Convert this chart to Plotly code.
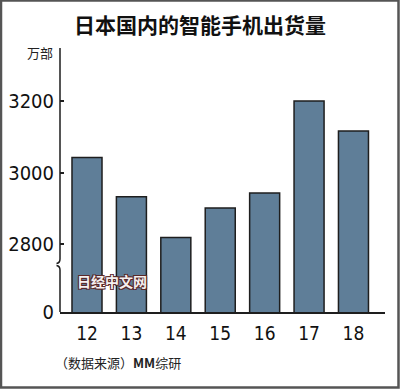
import plotly.graph_objects as go

years = ["12", "13", "14", "15", "16", "17", "18"]
shipments = [3042, 2932, 2818, 2901, 2943, 3200, 3116]
tick_vals = [2610, 2800, 3000, 3200]
tick_text = ["0", "2800", "3000", "3200"]

W, H = 400, 389
L, R, T, B = 60, 15, 48, 77
pw, ph = W - L - R, H - T - B

def px(x):
    return (x - L) / pw

def py(y):
    return (H - B - y) / ph

NUM = "Liberation Sans Narrow, DejaVu Sans Condensed, sans-serif"
CJK = "Noto Sans CJK SC, sans-serif"

fig = go.Figure(go.Bar(
    x=years, y=shipments,
    marker=dict(color="#5f7e98", line=dict(color="#1e1e1e", width=1.5)),
    width=0.676,
    hoverinfo="skip",
))

ax = px(60)
path_upper = f"M {ax},{py(48)} L {ax},{py(259)} Q {ax},{py(263)} {px(56.5)},{py(263.5)}"
path_lower = f"M {px(56.5)},{py(265.5)} Q {ax},{py(266)} {ax},{py(270)} L {ax},{py(312)}"
shapes = [
    dict(type="path", path=path_upper, xref="paper", yref="paper",
         line=dict(color="#1e1e1e", width=1.5)),
    dict(type="path", path=path_lower, xref="paper", yref="paper",
         line=dict(color="#1e1e1e", width=1.5)),
    dict(type="rect", xref="paper", yref="paper",
         x0=px(1), x1=px(W - 1.5), y0=py(H - 1.5), y1=py(0.5),
         line=dict(color="#555555", width=2.5), layer="above"),
]

annotations = [
    dict(text="<b>日本国内的智能手机出货量</b>", x=px(200), y=py(24), xref="paper", yref="paper",
         showarrow=False, font=dict(family=CJK, size=21, color="#111111"),
         xanchor="center", yanchor="middle"),
    dict(text="万部", x=px(25), y=py(52.5), xref="paper", yref="paper",
         showarrow=False, font=dict(family=CJK, size=13, color="#222222"),
         xanchor="left", yanchor="middle"),
    dict(text="（数据来源）<b>MM</b>综研", x=px(53), y=py(362), xref="paper", yref="paper",
         showarrow=False, font=dict(family=CJK, size=13, color="#222222"),
         xanchor="left", yanchor="middle"),
    dict(text="<b>日经中文网</b>", x=px(111.5), y=py(281), xref="paper", yref="paper",
         showarrow=False,
         font=dict(family=CJK, size=14, color="#f4f0f0",
                   shadow="-1px -1px 0 #5a2828, 1px -1px 0 #5a2828, -1px 1px 0 #5a2828, 1px 1px 0 #5a2828"),
         xanchor="center", yanchor="middle"),
]

fig.update_layout(
    width=W, height=H,
    margin=dict(l=L, r=R, t=T, b=B, pad=0),
    paper_bgcolor="white", plot_bgcolor="white",
    showlegend=False,
    shapes=shapes,
    annotations=annotations,
    xaxis=dict(
        type="category", automargin=False,
        range=[-0.608, 6.71],
        showline=True, linecolor="#1e1e1e", linewidth=1.5,
        showgrid=False, zeroline=False, ticks="",
        tickfont=dict(family=NUM, size=19, color="#111111"),
        ticklabelstandoff=3,
        fixedrange=True,
    ),
    yaxis=dict(
        automargin=False,
        range=[2609.8, 3348.3],
        showline=False, showgrid=False, zeroline=False,
        tickmode="array", tickvals=tick_vals, ticktext=tick_text,
        ticks="inside", ticklen=4, tickwidth=1.5, tickcolor="#1e1e1e",
        tickfont=dict(family=NUM, size=20, color="#111111"),
        ticklabelstandoff=5,
        fixedrange=True,
    ),
)

fig.write_html("out.html", config={"displayModeBar": False},
               post_script="document.body.style.margin='0';document.body.style.overflow='hidden';")
